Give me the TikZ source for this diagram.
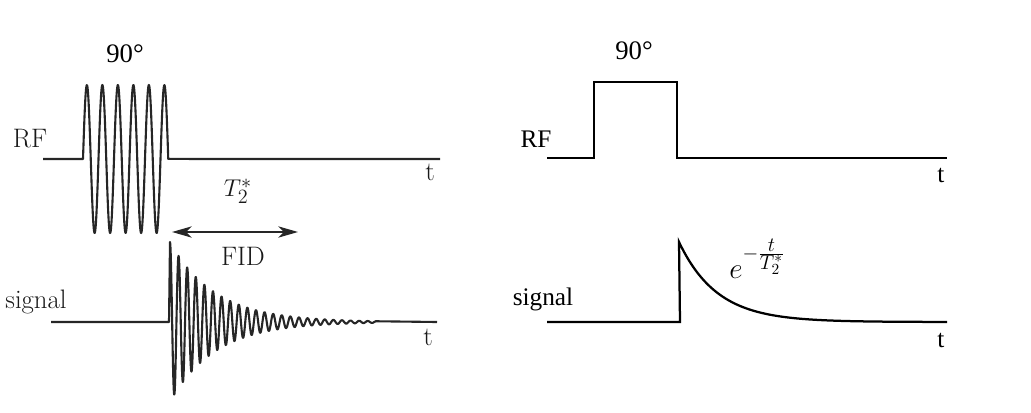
\documentclass[tikz,border=0pt]{standalone}
\usepackage{fontspec}
\newfontfamily\timesfont{Liberation Serif}
\usetikzlibrary{arrows.meta}

\begin{document}
\begin{tikzpicture}[x=0.025cm, y=-0.025cm,
    oldline/.style={black!85, line width=1.5pt, line join=round},
    newline/.style={black, line width=1.6pt},
    cmlabel/.style={anchor=base, inner sep=0pt, black!90, font=\fontsize{19}{22}\selectfont},
    tmlabel/.style={anchor=base, inner sep=0pt, font=\timesfont\fontsize{18}{21}\selectfont},
    anglelabel/.style={anchor=base, inner sep=0pt, font=\timesfont\fontsize{19}{22}\selectfont}]
  \useasboundingbox (0,0) rectangle (1031,413);

  % Coordinates
  \coordinate (A) at (43,159);
  \coordinate (B) at (83,159);
  \coordinate (D) at (440,159);
  \coordinate (E) at (51,322);
  \coordinate (F) at (169,322);
  \coordinate (H) at (437,322);
  \coordinate (I) at (172,232);
  \coordinate (J) at (298,232);
  \coordinate (K) at (547,158);
  \coordinate (L) at (594,158);
  \coordinate (M) at (594,82);
  \coordinate (N) at (677,82);
  \coordinate (O) at (677,158);
  \coordinate (P) at (947,158);
  \coordinate (Q) at (547,322);
  \coordinate (R) at (680,322);
  \coordinate (S) at (679,242);
  \coordinate (T) at (947,322);

  % Labels
  \node[anglelabel] (pulseA) at (125,63) {90°};
  \node[cmlabel] (rfA) at (30,148) {RF};
  \node[cmlabel] (tA) at (430,180) {t};
  \node[cmlabel] (tstar) at (238,197) {$T_2^*$};
  \node[cmlabel] (fid) at (243,265) {FID};
  \node[cmlabel] (sigA) at (36,308) {signal};
  \node[cmlabel] (tB) at (428,345) {t};
  \node[anglelabel] (pulseB) at (634,60) {90°};
  \node[tmlabel] (rfB) at (536,148) {RF};
  \node[tmlabel] (tC) at (941,183) {t};
  \node[tmlabel] (sigB) at (543,305) {signal};
  \node[tmlabel] (tD) at (941,347) {t};
  \node[anchor=base west, inner sep=0pt, font=\fontsize{22}{26}\selectfont] (decay) at (729,278)
    {$e^{-\frac{\scriptstyle t}{\scriptstyle T_2^*}}$};

  % Drawing
  \draw[oldline] (A) -- (B) -- plot[domain=0:85.25, samples=300] ({83+\x},{159-74*sin(\x*23.2258)}) -- (D);
  \draw[oldline] (E) -- (F) -- plot[domain=0:207, samples=800] ({170+\x},{322-80*exp(-\x/45)*cos(\x*41.8605)}) -- (H);
  \draw[oldline, {Stealth[length=14pt, width=8pt, inset=4pt]}-{Stealth[length=14pt, width=8pt, inset=4pt]}] (I) -- (J);
  \draw[newline] (K) -- (L) -- (M) -- (N) -- (O) -- (P);
  \draw[newline] (Q) -- (R) -- (S) -- plot[domain=0:240, samples=200] ({679+\x},{322-80*exp(-\x/38)}) -- (T);
\end{tikzpicture}
\end{document}
